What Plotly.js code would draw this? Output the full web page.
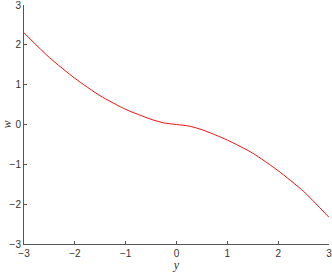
<!DOCTYPE html>
<html><head><meta charset="utf-8">
<script src="https://cdn.plot.ly/plotly-3.0.1.min.js"></script>
<style>html,body{margin:0;padding:0;background:#fff}</style>
</head><body>
<div id="chart" style="width:332px;height:272px"></div>
<script>
const yVals = [-3, -2.5, -2, -1.5, -1, -0.5, -0.25, 0, 0.25, 0.5, 1, 1.5, 2, 2.5, 3];
const wVals = [2.3, 1.68, 1.16, 0.72, 0.38, 0.13, 0.04, 0, -0.04, -0.13, -0.39, -0.72, -1.16, -1.68, -2.33];
const tickVals = [-3, -2, -1, 0, 1, 2, 3];

const axisCommon = {
  range: [-3, 3], tickvals: tickVals, ticks: 'inside', ticklen: 3, tickcolor: '#555',
  showline: true, linecolor: '#555', linewidth: 1, showgrid: false, zeroline: false,
  ticklabeloverflow: 'allow',
  tickfont: {family: 'Liberation Sans, Arial', size: 10, color: '#333'}, mirror: false
};
Plotly.newPlot('chart', [{
  x: yVals, y: wVals, mode: 'lines', line: {color: '#ee1111', width: 1, shape: 'spline', smoothing: 0.6}, hoverinfo: 'none', cliponaxis: false
}], {
  width: 332, height: 272, margin: {l: 24, r: 3, t: 5, b: 28},
  paper_bgcolor: '#fff', plot_bgcolor: '#fff', showlegend: false,
  xaxis: Object.assign({}, axisCommon, {title: {text: '<i>y</i>', standoff: 2, font: {family: 'Liberation Serif, Times New Roman', size: 12, color: '#333'}}}),
  yaxis: Object.assign({}, axisCommon, {title: {text: '<i>w</i>', standoff: 4, font: {family: 'Liberation Serif, Times New Roman', size: 12, color: '#333'}}})
}, {staticPlot: true, displayModeBar: false});
</script>
</body></html>
